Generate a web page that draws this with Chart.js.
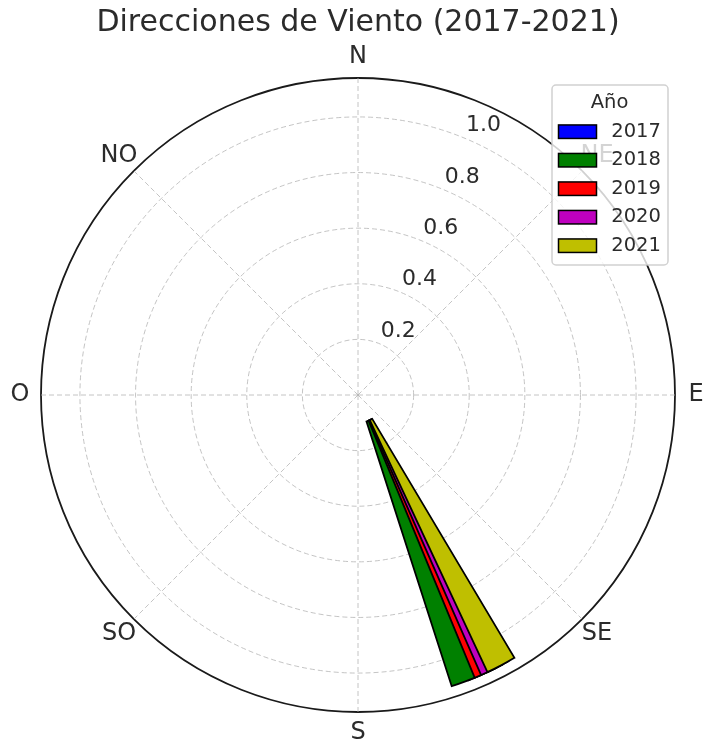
<!DOCTYPE html>
<html>
<head>
<meta charset="utf-8">
<script src="https://cdn.jsdelivr.net/npm/chart.js@4.4.0/dist/chart.umd.min.js"></script>
<style>
html,body{margin:0;padding:0;background:#ffffff;}
#wrap{width:703px;height:742px;}
</style>
</head>
<body>
<div id="wrap"><canvas id="c" width="703" height="742"></canvas></div>
<script>
// ---- data ----
const titleText = 'Direcciones de Viento (2017-2021)';
const directionLabels = ['N', 'NE', 'E', 'SE', 'S', 'SO', 'O', 'NO'];
const years = ['2017', '2018', '2019', '2020', '2021'];
const yearColors = ['#0000ff', '#008000', '#ff0000', '#bf00bf', '#bfbf00'];
const yearDirections = [156.0, 159.3, 154.7, 153.4, 152.1]; // degrees clockwise from N
const yearValues = [1.0, 1.0, 1.0, 1.0, 1.0];
const barBottom = 0.1;
const barWidthDeg = 5.73;
const radialTicks = [0.2, 0.4, 0.6, 0.8, 1.0];
const radialTickLabels = ['0.2', '0.4', '0.6', '0.8', '1.0'];
const rMax = 1.14;
const legendTitle = 'Año';

// ---- styles ----
const FONT = '"DejaVu Sans", "Liberation Sans", sans-serif';
const textColor = '#2b2b2b';
const gridColor = 'rgba(176,176,176,0.75)';

const datasets = years.map((y, i) => {
  const start = yearDirections[i] - barWidthDeg / 2;
  const angles = [start, barWidthDeg, 360 - start - barWidthDeg];
  return {
    label: y,
    data: [0, barBottom + yearValues[i], 0],
    order: years.length - 1 - i,
    angle: (ctx) => angles[ctx.dataIndex],
    backgroundColor: (ctx) => ctx.dataIndex === 1 ? yearColors[i] : 'rgba(0,0,0,0)',
    borderColor: '#000000',
    borderWidth: (ctx) => ctx.dataIndex === 1 ? 1.8 : 0,
    borderJoinStyle: 'miter'
  };
});

const barBasePlugin = {
  id: 'barBase',
  afterDatasetsUpdate(chart) {
    const s = chart.scales.r;
    const r0 = s.getDistanceFromCenterForValue(barBottom);
    chart.getSortedVisibleDatasetMetas().forEach(meta => {
      const arc = meta.data[1];
      if (arc) arc.innerRadius = r0;
    });
  }
};

const textPlugin = {
  id: 'polarText',
  afterDatasetsDraw(chart) {
    const s = chart.scales.r;
    const ctx = chart.ctx;
    ctx.save();
    ctx.fillStyle = textColor;
    ctx.textAlign = 'center';
    ctx.textBaseline = 'middle';
    ctx.font = '24px ' + FONT;
    directionLabels.forEach((lab, i) => {
      const p = s.getPointPosition(i, s.drawingArea + 21);
      ctx.fillText(lab, p.x, p.y);
    });
    ctx.font = '22px ' + FONT;
    const a = 22.5 * Math.PI / 180;
    radialTicks.forEach((v, i) => {
      const d = s.getDistanceFromCenterForValue(v);
      const x = s.xCenter + Math.sin(a) * d + 19;
      const y = s.yCenter - Math.cos(a) * d - 12.5;
      ctx.fillText(radialTickLabels[i], x, y);
    });
    ctx.restore();
  },
  afterDraw(chart) {
    const ctx = chart.ctx;
    const L = {x: 552, y: 85, w: 116, h: 180};
    ctx.save();
    ctx.beginPath();
    ctx.roundRect(L.x, L.y, L.w, L.h, 4);
    ctx.fillStyle = 'rgba(255,255,255,0.8)';
    ctx.fill();
    ctx.strokeStyle = 'rgba(204,204,204,0.9)';
    ctx.lineWidth = 1.5;
    ctx.stroke();
    ctx.font = '19.5px ' + FONT;
    ctx.fillStyle = textColor;
    ctx.textAlign = 'center';
    ctx.textBaseline = 'middle';
    ctx.fillText(legendTitle, 609.5, 103);
    chart.data.datasets.forEach((ds, i) => {
      const cy = 131.7 + i * 28.5;
      ctx.fillStyle = yearColors[i];
      ctx.fillRect(558.5, cy - 6.75, 38, 13.5);
      ctx.strokeStyle = '#000000';
      ctx.lineWidth = 1.5;
      ctx.strokeRect(558.5, cy - 6.75, 38, 13.5);
      ctx.fillStyle = textColor;
      ctx.textAlign = 'left';
      ctx.fillText(ds.label, 611.3, cy);
    });
    ctx.restore();
  }
};

new Chart(document.getElementById('c'), {
  type: 'polarArea',
  data: { labels: directionLabels, datasets: datasets },
  options: {
    responsive: false,
    animation: false,
    events: [],
    layout: { padding: { left: 41, right: 28, top: 0, bottom: 30 } },
    plugins: {
      legend: { display: false },
      tooltip: { enabled: false },
      title: {
        display: true,
        text: titleText,
        color: textColor,
        font: { family: FONT, size: 30, weight: 'normal' },
        padding: { top: 5, bottom: 37 }
      }
    },
    scales: {
      r: {
        min: 0,
        max: rMax,
        startAngle: 0,
        afterBuildTicks: (scale) => {
          scale.ticks = [0, ...radialTicks, rMax].map(v => ({ value: v }));
        },
        ticks: { display: false },
        pointLabels: { display: false },
        grid: {
          circular: true,
          color: (ctx) => (ctx.tick && ctx.tick.value >= rMax - 1e-9) ? '#1a1a1a' : gridColor,
          lineWidth: (ctx) => (ctx.tick && ctx.tick.value >= rMax - 1e-9) ? 1.8 : 1
        },
        border: {
          dash: (ctx) => (ctx.tick && ctx.tick.value >= rMax - 1e-9) ? [] : [5, 3]
        },
        angleLines: {
          display: true,
          color: gridColor,
          lineWidth: 1,
          borderDash: [5, 3]
        }
      }
    }
  },
  plugins: [barBasePlugin, textPlugin]
});
</script>
</body>
</html>
